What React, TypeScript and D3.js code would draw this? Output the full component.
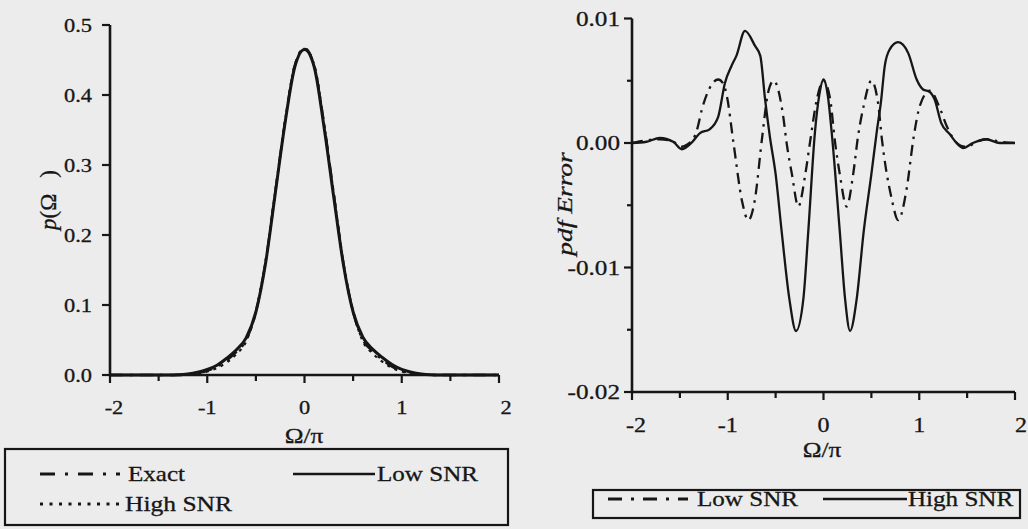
import React from "react";
import * as d3 from "d3";

// ---------- Left panel data: p(Ω) ----------
const omegaL = [-2, -1.9, -1.8, -1.7, -1.6, -1.5, -1.4, -1.3, -1.2, -1.1, -1, -0.9, -0.8, -0.7, -0.6, -0.5, -0.4, -0.3, -0.2, -0.1, 0,
  0.1, 0.2, 0.3, 0.4, 0.5, 0.6, 0.7, 0.8, 0.9, 1, 1.1, 1.2, 1.3, 1.4, 1.5, 1.6, 1.7, 1.8, 1.9, 2];
const exactL = [0, 0, 0, 0, 0, 0, 0, 0, 0.001, 0.003, 0.006, 0.012, 0.021, 0.033, 0.05, 0.09, 0.162, 0.262, 0.362, 0.442, 0.467,
  0.442, 0.36, 0.26, 0.16, 0.09, 0.05, 0.034, 0.022, 0.012, 0.006, 0.003, 0.001, 0, 0, 0, 0, 0, 0, 0, 0];
const lowSnrL = [0, 0, 0, 0, 0, 0, 0, 0.0003, 0.0015, 0.004, 0.008, 0.014, 0.024, 0.036, 0.053, 0.09, 0.16, 0.26, 0.36, 0.44, 0.465,
  0.44, 0.355, 0.255, 0.158, 0.09, 0.054, 0.037, 0.025, 0.015, 0.008, 0.004, 0.0015, 0.0003, 0, 0, 0, 0, 0, 0, 0];
const highSnrL = [0, 0, 0, 0, 0, 0, 0, 0, 0.0005, 0.002, 0.005, 0.01, 0.018, 0.03, 0.048, 0.091, 0.163, 0.263, 0.363, 0.443, 0.466,
  0.443, 0.36, 0.26, 0.16, 0.091, 0.048, 0.031, 0.019, 0.01, 0.005, 0.002, 0.0005, 0, 0, 0, 0, 0, 0, 0, 0];

// ---------- Right panel data: pdf Error ----------
const lowSnrRX = [-2, -1.71, -1.57, -1.48, -1.4, -1.36, -1.32, -1.27, -1.19, -1.1, -1.05, -1.01, -0.94, -0.85, -0.785, -0.72, -0.64,
  -0.58, -0.52, -0.42, -0.385, -0.33, -0.263, -0.19, -0.14, -0.07, 0, 0.07, 0.12, 0.17, 0.242, 0.31, 0.36, 0.42, 0.5, 0.57, 0.61,
  0.71, 0.78, 0.87, 0.94, 1.007, 1.11, 1.22, 1.29, 1.43, 1.5, 1.6, 1.7, 1.85, 2];
const lowSnrRY = [0, 0.0003, 0.0001, -0.0003, 0, 0.0003, 0.0011, 0.0027, 0.0044, 0.0051, 0.0048, 0.0038, 0, -0.0047, -0.0062, -0.0047,
  0.0005, 0.004, 0.005, 0.0021, 0, -0.0025, -0.0051, -0.0025, 0.0001, 0.0035, 0.005, 0.0035, 0.0001, -0.0025, -0.0051, -0.0025,
  0.0005, 0.003, 0.005, 0.0032, 0.0003, -0.0044, -0.0062, -0.0036, 0.0004, 0.003, 0.0042, 0.0027, 0.0013, -0.0002, -0.0003, 0.0001,
  0.0003, 0.0001, 0];
const highSnrRX = [-2, -1.85, -1.71, -1.57, -1.48, -1.38, -1.29, -1.19, -1.1, -1.03, -0.96, -0.91, -0.82, -0.715, -0.66, -0.61, -0.56,
  -0.5, -0.437, -0.357, -0.287, -0.21, -0.159, -0.089, -0.045, 0, 0.045, 0.085, 0.17, 0.225, 0.277, 0.347, 0.42, 0.5, 0.556, 0.6,
  0.64, 0.69, 0.78, 0.886, 0.973, 1.04, 1.11, 1.16, 1.23, 1.32, 1.39, 1.46, 1.56, 1.7, 1.84, 2];
const highSnrRY = [0, 0.0001, 0.0004, 0.0001, -0.0005, 0, 0.0008, 0.0011, 0.0021, 0.0048, 0.0062, 0.007, 0.009, 0.0078, 0.007, 0.0035,
  0.0005, -0.0025, -0.0071, -0.0125, -0.0151, -0.0125, -0.0071, 0.0009, 0.0038, 0.0051, 0.0038, 0.0009, -0.0071, -0.0125, -0.0151,
  -0.0125, -0.0071, -0.0025, 0.0009, 0.0033, 0.0062, 0.0075, 0.0081, 0.0072, 0.0051, 0.0043, 0.0041, 0.0035, 0.0016, 0.0007, 0,
  -0.0004, 0, 0.0003, 0, 0];

// ---------- Ticks & labels ----------
const xMajorTicks = [-2, -1, 0, 1, 2];
const xMinorTicks = [-1.5, -0.5, 0.5, 1.5];
const leftYTicks = [0, 0.1, 0.2, 0.3, 0.4, 0.5];
const rightYTicks = [-0.02, -0.01, 0, 0.01];
const rightYMinor = [-0.015, -0.005, 0.005];
const leftLegend = ["Exact", "Low SNR", "High SNR"];
const rightLegend = ["Low SNR", "High SNR"];

const INK = "#161616";
const FONT = "'Liberation Serif', 'Times New Roman', serif";

const zip = (xs: number[], ys: number[]) => xs.map((x, i) => [x, ys[i]] as [number, number]);

function SText({ x, y, size, sx = 1.2, anchor = "start", children }: any) {
  return (
    <text
      transform={`translate(${x},${y}) scale(${sx},1)`}
      fontFamily={FONT}
      fontSize={size}
      textAnchor={anchor}
      fill={INK}
      stroke={INK}
      strokeWidth={0.3}
    >
      {children}
    </text>
  );
}

export default function App() {
  // Left scales
  const xL = d3.scaleLinear().domain([-2, 2]).range([110, 499]);
  const yL = d3.scaleLinear().domain([0, 0.5]).range([375, 25]);
  // Right scales
  const xR = d3.scaleLinear().domain([-2, 2]).range([632, 1015]);
  const yR = d3.scaleLinear().domain([-0.02, 0.01]).range([392, 18.5]);

  const lineL = d3.line<[number, number]>().x((d) => xL(d[0])).y((d) => yL(d[1])).curve(d3.curveMonotoneX);
  const lineR = d3.line<[number, number]>().x((d) => xR(d[0])).y((d) => yR(d[1])).curve(d3.curveMonotoneX);

  return (
    <svg width={1028} height={529} style={{ position: "absolute", left: 0, top: 0, background: "#ececec" }}>
      <rect x={0} y={0} width={1028} height={529} fill="#ececec" />

      {/* ===== Left panel ===== */}
      <g>
        <path d={lineL(zip(omegaL, highSnrL)) || ""} fill="none" stroke={INK} strokeWidth={2.2} strokeDasharray="3,5" />
        <path d={lineL(zip(omegaL, exactL)) || ""} fill="none" stroke={INK} strokeWidth={2.4} strokeDasharray="13,7,3,7" />
        <path d={lineL(zip(omegaL, lowSnrL)) || ""} fill="none" stroke={INK} strokeWidth={3} />

        {/* axes */}
        <line x1={xL(-2)} x2={xL(-2)} y1={yL(0.5)} y2={yL(0) + 1.2} stroke={INK} strokeWidth={2.6} />
        <line x1={xL(-2)} x2={xL(2)} y1={yL(0)} y2={yL(0)} stroke={INK} strokeWidth={2.6} />
        {leftYTicks.map((t) => (
          <g key={"ly" + t}>
            <line x1={xL(-2) - 8} x2={xL(-2)} y1={yL(t)} y2={yL(t)} stroke={INK} strokeWidth={2.2} />
            <SText x={92} y={yL(t) + 6.5} size={19} anchor="end" sx={1.18}>{t.toFixed(1)}</SText>
          </g>
        ))}
        {xMajorTicks.map((t) => (
          <g key={"lx" + t}>
            <line x1={xL(t)} x2={xL(t)} y1={yL(0)} y2={yL(0) + 8} stroke={INK} strokeWidth={2.2} />
            <SText x={xL(t) + (t === 2 ? 7 : t === -2 ? 4 : 0)} y={414} size={19} anchor="middle" sx={1.18}>{String(t)}</SText>
          </g>
        ))}
        {xMinorTicks.map((t) => (
          <line key={"lxm" + t} x1={xL(t)} x2={xL(t)} y1={yL(0)} y2={yL(0) + 6} stroke={INK} strokeWidth={2.2} />
        ))}
        <SText x={304} y={443} size={22} anchor="middle" sx={1.15}>Ω/π</SText>
        <text transform="translate(56,200) rotate(-90)" fontFamily={FONT} fontSize={23} textAnchor="middle" fill={INK} stroke={INK} strokeWidth={0.3}>
          <tspan fontStyle="italic">p</tspan>
          <tspan>(Ω</tspan>
          <tspan dx={16}>)</tspan>
        </text>

        {/* legend */}
        <rect x={5} y={449} width={503} height={76} fill="none" stroke={INK} strokeWidth={2.2} />
        <line x1={40} x2={120} y1={474} y2={474} stroke={INK} strokeWidth={3} strokeDasharray="15,10,3,10" />
        <SText x={128} y={481} size={22} sx={1.14}>{leftLegend[0]}</SText>
        <line x1={293} x2={375} y1={474} y2={474} stroke={INK} strokeWidth={2.4} />
        <SText x={377} y={481} size={22} sx={1.14}>{leftLegend[1]}</SText>
        <line x1={40} x2={124} y1={504} y2={504} stroke={INK} strokeWidth={3} strokeDasharray="3,6.5" />
        <SText x={125} y={511} size={22} sx={1.16}>{leftLegend[2]}</SText>
      </g>

      {/* ===== Right panel ===== */}
      <g>
        <path d={lineR(zip(lowSnrRX, lowSnrRY)) || ""} fill="none" stroke={INK} strokeWidth={2.3} strokeDasharray="11,6,2.5,6" />
        <path d={lineR(zip(highSnrRX, highSnrRY)) || ""} fill="none" stroke={INK} strokeWidth={2.3} />

        <line x1={xR(-2)} x2={xR(-2)} y1={yR(0.01)} y2={yR(-0.02) + 1.2} stroke={INK} strokeWidth={2.6} />
        <line x1={xR(-2)} x2={xR(2)} y1={yR(-0.02)} y2={yR(-0.02)} stroke={INK} strokeWidth={2.6} />
        {rightYTicks.map((t) => (
          <g key={"ry" + t}>
            <line x1={xR(-2) - 8} x2={xR(-2)} y1={yR(t)} y2={yR(t)} stroke={INK} strokeWidth={2.2} />
            <SText x={620} y={yR(t) + 7} size={21} anchor="end" sx={1.2}>{t.toFixed(2)}</SText>
          </g>
        ))}
        {rightYMinor.map((t) => (
          <line key={"rym" + t} x1={xR(-2) - 5} x2={xR(-2)} y1={yR(t)} y2={yR(t)} stroke={INK} strokeWidth={2.2} />
        ))}
        {xMajorTicks.map((t) => (
          <g key={"rx" + t}>
            <line x1={xR(t)} x2={xR(t)} y1={yR(-0.02)} y2={yR(-0.02) + 8} stroke={INK} strokeWidth={2.2} />
            <SText x={xR(t) + (t === 2 ? 6 : t === -2 ? 4 : 0)} y={432} size={20} anchor="middle">{String(t)}</SText>
          </g>
        ))}
        {xMinorTicks.map((t) => (
          <line key={"rxm" + t} x1={xR(t)} x2={xR(t)} y1={yR(-0.02)} y2={yR(-0.02) + 6} stroke={INK} strokeWidth={2.2} />
        ))}
        <SText x={822} y={457} size={22} anchor="middle" sx={1.15}>Ω/π</SText>
        <text transform="translate(572,204) rotate(-90) scale(1.25,1)" fontFamily={FONT} fontSize={22} fontStyle="italic" textAnchor="middle" fill={INK} stroke={INK} strokeWidth={0.3}>
          pdf Error
        </text>

        {/* legend */}
        <rect x={593} y={490} width={427} height={28} fill="none" stroke={INK} strokeWidth={2.2} />
        <line x1={608} x2={688} y1={499} y2={499} stroke={INK} strokeWidth={3} strokeDasharray="14,9,3,9" />
        <SText x={697} y={506} size={22} sx={1.14}>{rightLegend[0]}</SText>
        <line x1={823} x2={907} y1={499} y2={499} stroke={INK} strokeWidth={2.4} />
        <SText x={908} y={506} size={22} sx={1.14}>{rightLegend[1]}</SText>
      </g>
    </svg>
  );
}
